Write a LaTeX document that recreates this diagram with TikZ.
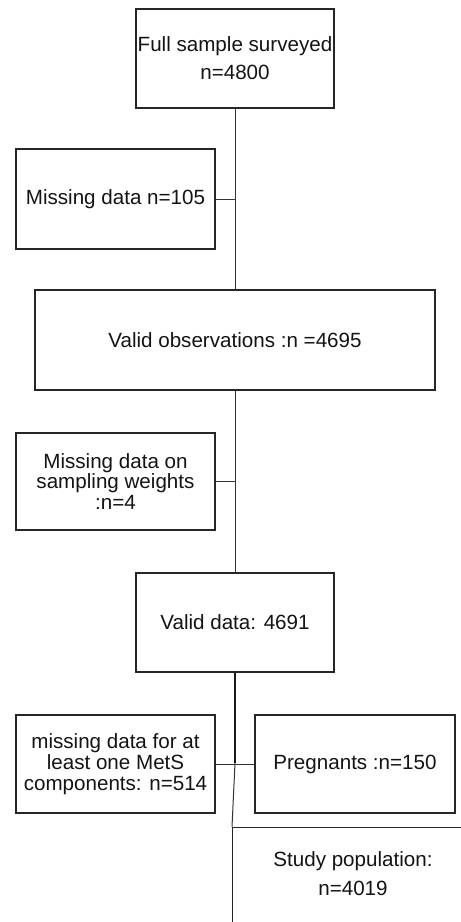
\documentclass[tikz,border=0pt]{standalone}
\usepackage{fontspec}
\setmainfont{Liberation Sans}
\begin{document}
\begin{tikzpicture}[x=1pt,y=-1pt,
  every node/.style={font=\fontsize{20.6}{20.7}\selectfont, text=black!92, inner sep=0pt, align=center},
  box/.style={draw=black!85, line width=1.2pt, rectangle},
  link/.style={draw=black!80, line width=1pt},
  heavy/.style={draw=black!90, line width=2.6pt}]
\useasboundingbox (0,0) rectangle (461,922);
\fill[white] (0,0) rectangle (461,922);
\clip (0,0) rectangle (461,922);

% main column of boxes
\node[box, minimum width=198, minimum height=99] (full) at (235,58.5)
  {Full sample surveyed\\[7.5pt]n=4800};
\node[box, minimum width=400, minimum height=100] (validobs) at (235,340)
  {Valid observations :n =4695};
\node[box, minimum width=198, minimum height=99] (validdata) at (235,622.5)
  {Valid data: 4691};

% exclusion boxes
\node[box, minimum width=199, minimum height=100] (miss1) at (115.5,199)
  {Missing data n=105};
\node[box, minimum width=199, minimum height=97] (miss2) at (115.5,481.5)
  {Missing data on\\sampling weights\\:n=4};
\node[box, minimum width=199, minimum height=98] (mets) at (115.5,764)
  {missing data for at\\least one MetS\\components: n=514};
\node[box, minimum width=200, minimum height=98] (preg) at (355,764)
  {Pregnants :n=150};

% final box, running past the page edges
\node[box, anchor=north west, minimum width=260, minimum height=150] (studyframe) at (232,827) {};
\node (study) at (353,873.5) {Study population:\\[8pt]n=4019};

% connectors
\draw[link] (full.south) -- (validobs.north);
\draw[link] (miss1.east) -- (miss1.east -| full.south);
\draw[link] (validobs.south) -- (validdata.north);
\draw[link] (miss2.east) -- (miss2.east -| validobs.south);
\coordinate (split) at (235,763);
\draw[heavy] (validdata.south) -- (split);
\draw[link] (mets.east) -- (preg.west);
\draw[link] (split) -- (studyframe.north west);
\end{tikzpicture}
\end{document}
